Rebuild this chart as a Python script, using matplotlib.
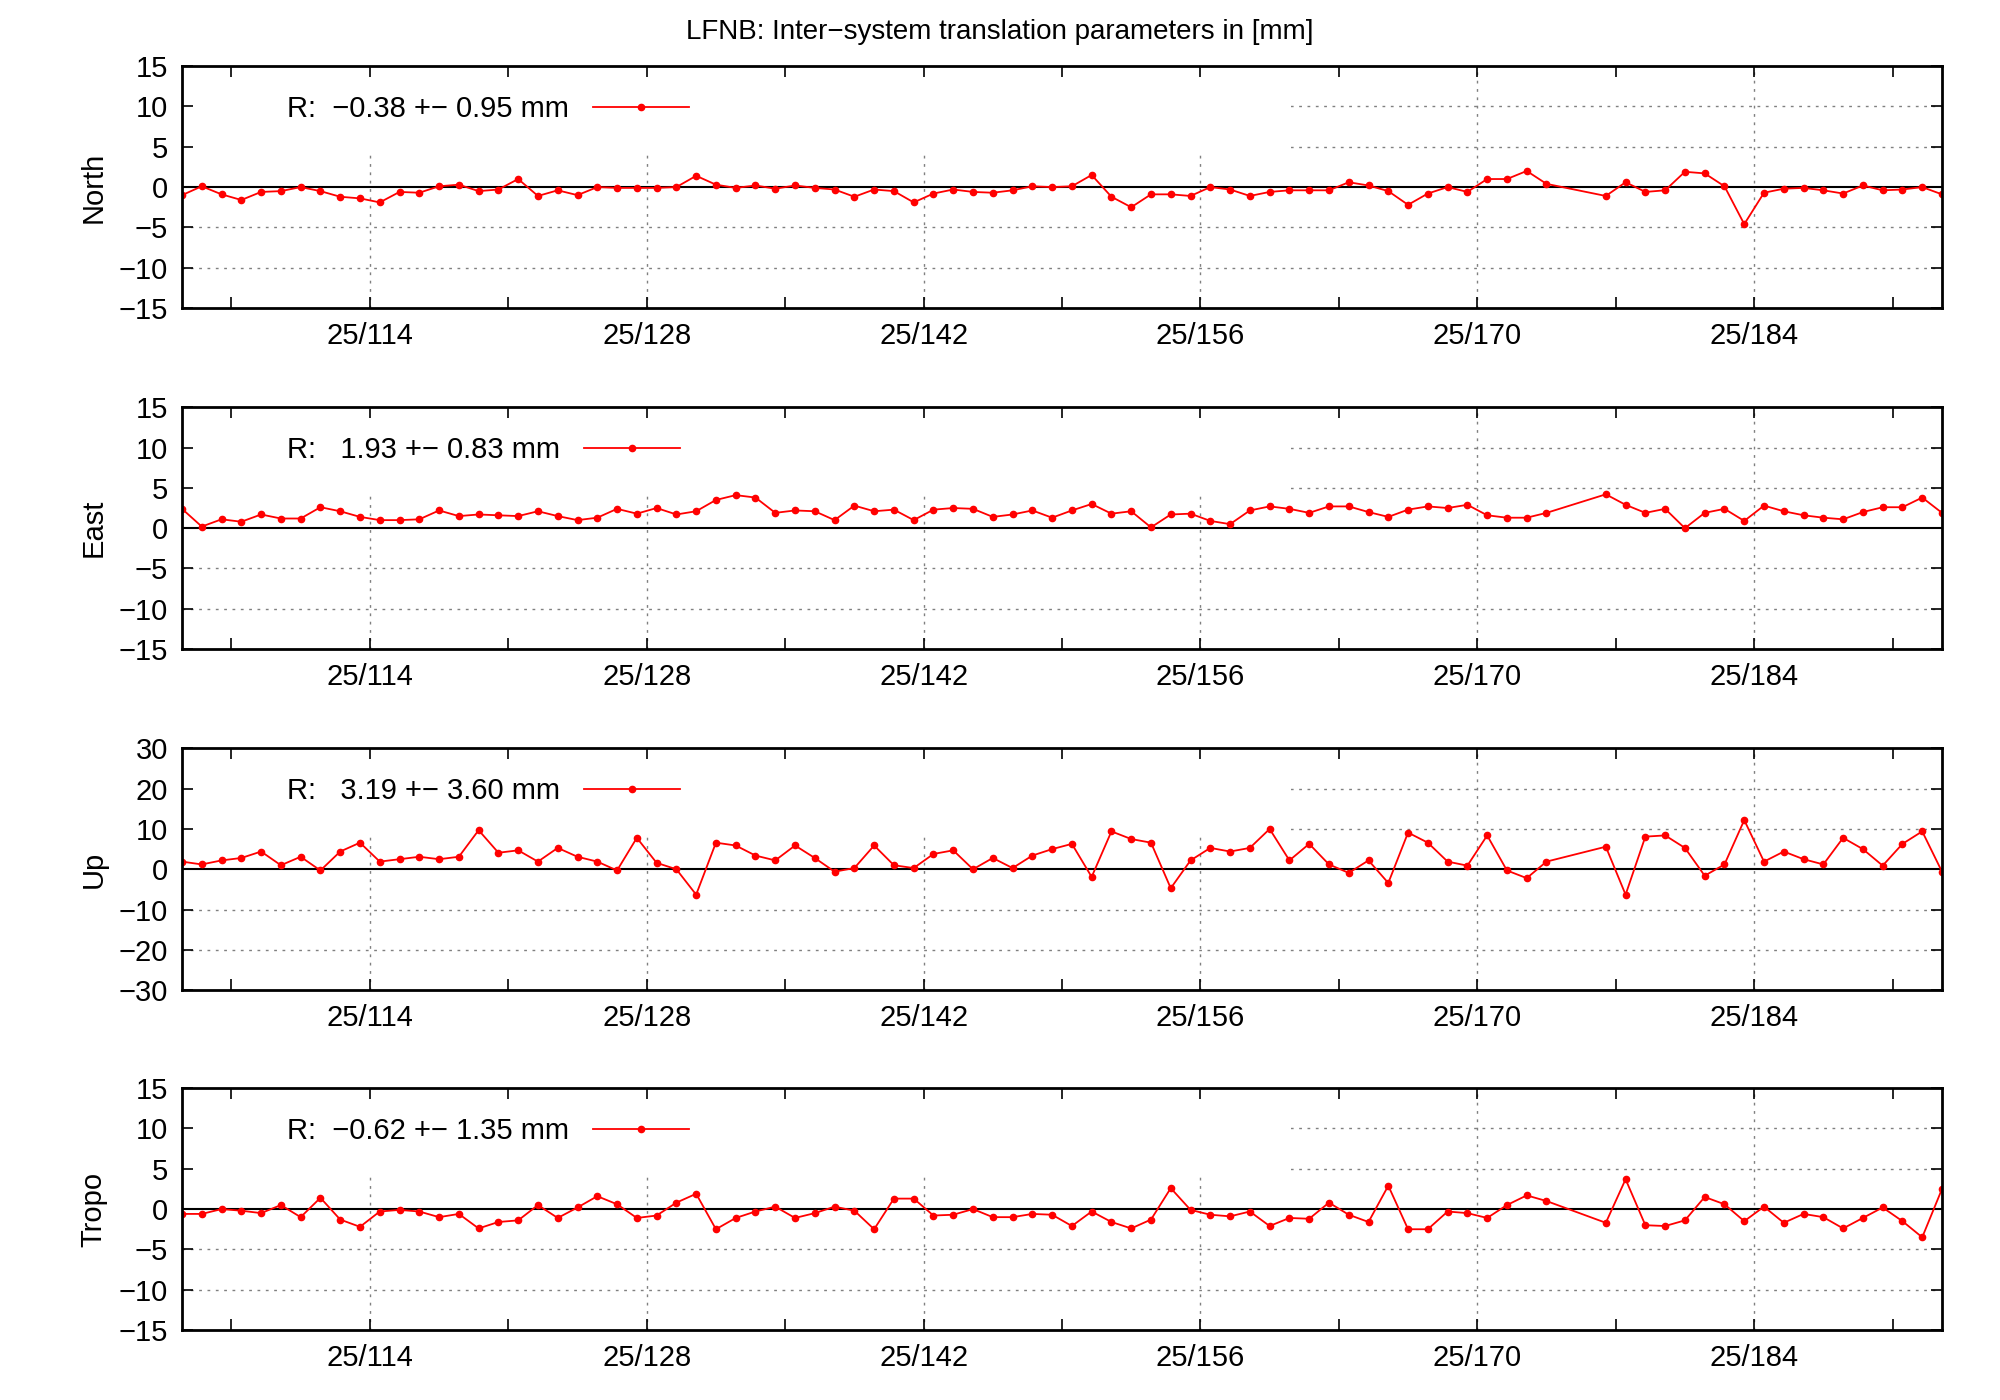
import numpy as np
import matplotlib.pyplot as plt
from matplotlib.patches import Rectangle

plt.rcParams["font.family"] = "Liberation Sans"

# day of year 2025 (noon epochs), days 174.5 and 175.5 missing
days = np.concatenate([np.arange(104.5, 174, 1.0), np.arange(176.5, 194, 1.0)])

north = [-1.0, 0.1, -0.9, -1.6, -0.6, -0.5, 0.0, -0.5, -1.2, -1.4,
         -1.9, -0.6, -0.7, 0.1, 0.3, -0.5, -0.3, 1.0, -1.1, -0.4,
         -1.0, 0.0, -0.1, -0.1, -0.1, 0.0, 1.4, 0.3, -0.1, 0.2,
         -0.2, 0.2, -0.1, -0.3, -1.2, -0.3, -0.5, -1.9, -0.8, -0.3,
         -0.6, -0.7, -0.4, 0.1, 0.0, 0.1, 1.5, -1.2, -2.5, -0.9,
         -0.9, -1.1, 0.0, -0.3, -1.1, -0.6, -0.4, -0.4, -0.4, 0.6,
         0.2, -0.5, -2.2, -0.8, 0.0, -0.6, 1.0, 1.0, 2.0, 0.4,
         -1.1, 0.6, -0.6, -0.4, 1.9, 1.7, 0.1, -4.6, -0.7, -0.2,
         -0.1, -0.4, -0.8, 0.2, -0.4, -0.3, 0.0, -0.9]
east = [2.4, 0.2, 1.1, 0.8, 1.7, 1.2, 1.2, 2.6, 2.1, 1.4,
        1.0, 1.0, 1.1, 2.2, 1.5, 1.7, 1.6, 1.5, 2.1, 1.5,
        1.0, 1.3, 2.4, 1.8, 2.5, 1.7, 2.1, 3.5, 4.1, 3.8,
        1.9, 2.2, 2.1, 1.0, 2.8, 2.1, 2.3, 1.0, 2.3, 2.5,
        2.4, 1.4, 1.7, 2.2, 1.3, 2.2, 3.0, 1.8, 2.1, 0.1,
        1.7, 1.8, 0.9, 0.5, 2.2, 2.7, 2.4, 1.9, 2.7, 2.7,
        2.0, 1.4, 2.3, 2.7, 2.5, 2.9, 1.6, 1.3, 1.3, 1.9,
        4.2, 2.9, 1.9, 2.4, 0.0, 1.9, 2.4, 0.9, 2.8, 2.1,
        1.6, 1.3, 1.1, 2.0, 2.6, 2.6, 3.8, 1.9]
up = [1.9, 1.2, 2.2, 2.8, 4.4, 1.0, 3.1, -0.3, 4.4, 6.6,
      1.9, 2.5, 3.1, 2.5, 3.1, 9.7, 4.1, 4.7, 1.9, 5.3,
      3.1, 1.9, -0.3, 7.8, 1.6, 0.0, -6.3, 6.6, 5.9, 3.4,
      2.2, 5.9, 2.8, -0.6, 0.3, 5.9, 1.0, 0.3, 3.8, 4.7,
      0.0, 2.8, 0.3, 3.4, 5.0, 6.3, -1.9, 9.4, 7.5, 6.6,
      -4.7, 2.2, 5.3, 4.4, 5.3, 10.0, 2.2, 6.3, 1.2, -0.9,
      2.2, -3.4, 9.1, 6.6, 1.9, 0.9, 8.4, -0.3, -2.2, 1.9,
      5.6, -6.3, 8.1, 8.4, 5.3, -1.6, 1.2, 12.2, 1.9, 4.4,
      2.5, 1.2, 7.8, 5.0, 0.9, 6.3, 9.4, -0.6]
tropo = [-0.6, -0.6, 0.0, -0.2, -0.5, 0.5, -1.0, 1.4, -1.3, -2.2,
         -0.3, -0.1, -0.3, -1.0, -0.6, -2.4, -1.6, -1.4, 0.5, -1.1,
         0.2, 1.6, 0.6, -1.1, -0.8, 0.8, 1.9, -2.5, -1.1, -0.3,
         0.3, -1.1, -0.5, 0.3, -0.2, -2.5, 1.3, 1.3, -0.8, -0.7,
         0.0, -1.0, -1.0, -0.6, -0.7, -2.1, -0.3, -1.6, -2.4, -1.3,
         2.6, -0.1, -0.7, -0.9, -0.3, -2.1, -1.1, -1.2, 0.8, -0.7,
         -1.6, 2.9, -2.5, -2.5, -0.3, -0.5, -1.1, 0.5, 1.7, 1.0,
         -1.7, 3.7, -2.0, -2.1, -1.4, 1.5, 0.6, -1.5, 0.3, -1.7,
         -0.6, -1.0, -2.4, -1.1, 0.2, -1.5, -3.5, 2.5]

names = ["North", "East", "Up", "Tropo"]
series = [north, east, up, tropo]
labels = ["R:  \u22120.38 +\u2212 0.95 mm", "R:   1.93 +\u2212 0.83 mm",
          "R:   3.19 +\u2212 3.60 mm", "R:  \u22120.62 +\u2212 1.35 mm"]
limits = [15, 15, 30, 15]
steps = [5, 5, 10, 5]

fig = plt.figure(figsize=(20, 14), dpi=100)
fig.text(0.5, 0.977, "LFNB: Inter\u2212system translation parameters in [mm]",
         ha="center", va="center", fontsize=20)

tops = [52, 320, 588, 855]
for k in range(4):
    bottom = 1 - (tops[k] + 190) / 1100
    ax = fig.add_axes([0.091, bottom, 0.88, 190 / 1100])
    lim, st = limits[k], steps[k]
    ax.set_xlim(days[0], days[-1])
    ax.set_ylim(-lim, lim)
    yt = np.arange(-lim, lim + 1, st)
    ax.set_yticks(yt)
    ax.set_yticklabels([str(v).replace("-", "\u2212") for v in yt])
    ax.set_xticks(np.arange(107, 194, 7))
    ax.set_xticklabels(["25/%d" % d if (d - 114) % 14 == 0 else "" for d in range(107, 194, 7)])
    ax.tick_params(direction="in", top=True, right=True, length=8, width=1.2,
                   labelsize=21, pad=10)
    for s in ax.spines.values():
        s.set_linewidth(2)
    for d in range(114, 194, 14):
        ax.axvline(d, color="0.5", ls=(0, (2, 4)), lw=1, zorder=0)
    for v in yt[1:-1]:
        if v != 0:
            ax.axhline(v, color="0.5", ls=(0, (2, 4)), lw=1, zorder=0)
    ax.axhline(0, color="black", lw=1.5, zorder=1)
    # opaque key box like gnuplot
    ax.add_patch(Rectangle((0, 0.64), 0.63, 0.36, transform=ax.transAxes,
                           facecolor="white", edgecolor="none", zorder=0.5))
    ax.plot(days, series[k], color="red", lw=1.3, marker="o", ms=4.5,
            label=labels[k], zorder=2)
    ax.set_ylabel(names[k], fontsize=21, labelpad=8)
    ax.legend(loc="upper left", bbox_to_anchor=(0.045, 0.99), frameon=False,
              markerfirst=False, fontsize=21, handlelength=3.3)

fig.savefig("out.png")
